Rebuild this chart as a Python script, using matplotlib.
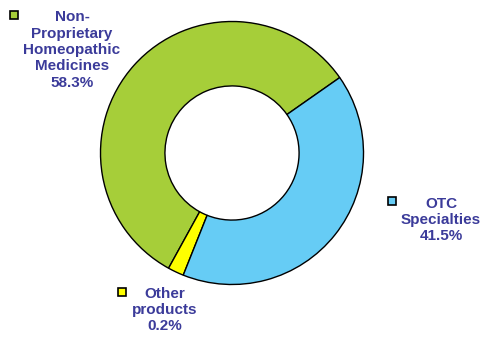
import numpy as np
import matplotlib
matplotlib.use("Agg")
import matplotlib.pyplot as plt
from matplotlib.patches import Rectangle

# Data (in drawing order, counter-clockwise from the top right)
categories = ["Non-\nProprietary\nHomeopathic\nMedicines", "Other\nproducts", "OTC\nSpecialties"]
shares = [58.3, 0.2, 41.5]
colors = ["#A6CE39", "#FFFF00", "#66CCF5"]

# the source chart gives tiny slices a minimum visible size
min_visible = 2.0
drawn = np.maximum(np.array(shares), min_visible)

W, H = 496, 337
fig = plt.figure(figsize=(W / 100, H / 100), dpi=100)
ax = fig.add_axes([0, 0, 1, 1])

cx, cy, R = 232, H - 153, 131.5
ax.pie(drawn, colors=colors, startangle=35, counterclock=True,
       center=(cx, cy), radius=R, frame=True,
       wedgeprops=dict(width=R * 0.49, edgecolor="black", linewidth=1.0))
ax.set_xlim(0, W)
ax.set_ylim(0, H)
ax.set_aspect("equal")
ax.set_axis_off()

text_color = "#3B3B9A"
# label placement: (text centre x, text centre y, marker x, marker y) in pixels
label_pos = [(72, 50, 10, 11), (165, 310, 118, 288), (441, 220, 388, 197)]
for name, val, col, (tx, ty, mx, my) in zip(categories, shares, colors, label_pos):
    ax.text(tx, H - ty, f"{name}\n{val:.1f}%", ha="center", va="center",
            multialignment="center", fontsize=11, fontweight="bold",
            family="Liberation Sans", color=text_color, linespacing=1.22)
    ax.add_patch(Rectangle((mx, H - my - 8), 8, 8, facecolor=col,
                           edgecolor="black", linewidth=1.2))

fig.savefig("out.png", dpi=100)
